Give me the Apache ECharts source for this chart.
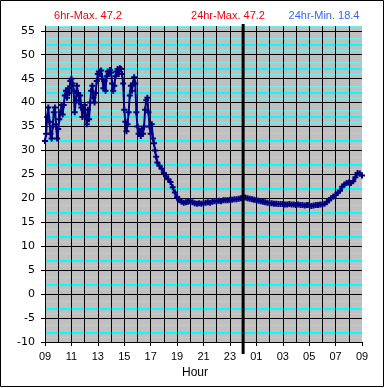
<!DOCTYPE html>
<html><head><meta charset="utf-8">
<script src="https://cdn.jsdelivr.net/npm/echarts@6/dist/echarts.min.js"></script>
<style>html,body{margin:0;padding:0;background:#fff}#c{width:385px;height:388px}</style>
</head><body><div id="c"></div>
<script>
// ---- data ----
const hourLabels = ['09','11','13','15','17','19','21','23','01','03','05','07','09'];
const yTickValues = [-10,-5,0,5,10,15,20,25,30,35,40,45,50,55];
const headerTexts = ['6hr-Max. 47.2', '24hr-Max. 47.2', '24hr-Min. 18.4'];
const axisTitle = 'Hour';
const midnightHour = 15; // hours after 09:00
// temperatures every 5 min from 09:00 to 17:30
const daySampleStartMin = 0, daySampleStepMin = 5;
const tempsDay = [
 32.0,33.5,37.0,39.0,36.0,33.5,32.5,35.0,38.0,39.0,35.5,32.5,
 34.5,36.5,38.0,39.5,37.5,39.5,41.5,42.5,41.0,43.0,42.0,44.5,
 45.0,44.0,42.5,38.0,40.5,43.5,42.0,40.0,41.5,39.0,37.0,38.5,
 39.5,37.0,35.5,38.5,36.5,40.0,42.5,43.5,41.0,40.0,42.0,44.5,
 46.0,46.5,46.0,46.7,45.0,43.0,44.5,42.5,45.5,46.5,46.0,46.8,
 46.3,44.0,42.5,43.5,45.5,46.5,47.0,46.0,47.2,47.0,46.0,44.0,
 38.5,36.0,34.0,35.5,38.0,41.5,43.5,42.5,44.0,45.3,44.0,38.0,
 35.0,33.5,34.0,33.0,34.5,33.5,35.0,38.5,40.5,41.0,38.0,35.0,
 33.5,35.5,32.5,31.5,30.0,28.7,27.5
];
// temperatures every 10 min from 17:40 to 09:00 next day
const nightSampleStartMin = 520, nightSampleStepMin = 10;
const tempsNight = [
 26.8,26.2,
 25.3,24.6,24.0,23.4,22.3,21.2,
 20.3,19.6,19.3,19.1,19.2,19.3,
 19.4,19.2,19.0,18.9,19.0,18.9,
 19.0,19.1,19.2,19.1,19.3,19.4,
 19.4,19.5,19.4,19.6,19.6,19.6,
 19.7,19.7,19.8,19.8,19.9,20.0,
 20.3,20.2,20.0,19.9,19.8,19.7,
 19.6,19.5,19.4,19.3,19.2,19.1,
 19.0,19.0,18.9,18.9,18.8,18.8,
 18.8,18.7,18.7,18.8,18.7,18.7,
 18.6,18.7,18.6,18.6,18.5,18.6,
 18.6,18.4,18.5,18.6,18.6,18.7,
 18.7,18.9,19.2,19.6,20.0,20.4,
 20.7,21.2,21.6,22.4,22.9,23.2,
 23.3,23.2,23.6,24.4,25.3,25.2,
 24.8
];
const yMin = -10, yMax = 56, yMajor = 5, yMinor = 0.5;

// ---- build ----
const seriesData = [];
tempsDay.forEach((v, i) => seriesData.push([(daySampleStartMin + i * daySampleStepMin) / 60, v]));
tempsNight.forEach((v, i) => seriesData.push([(nightSampleStartMin + i * nightSampleStepMin) / 60, v]));

const BLACK = '#000000', NONE = 'rgba(0,0,0,0)';
// cyan guide lines: within each 5-unit band, pale at +1, bright at +2, pale at +3.5
const paleColors = [], brightColors = [];
for (let k = 0; yMin + k * yMinor <= yMax + 1e-9; k++) {
  const m = k % 10;
  paleColors.push((m === 2 || m === 7) ? '#6ff0f0' : NONE);
  brightColors.push(m === 4 ? '#00ffff' : NONE);
}
const majorColors = [];
for (let v = yMin; v <= yMax; v += yMajor) majorColors.push(BLACK);
majorColors.push(NONE);
const xColors = [];
for (let i = 0; i < hourLabels.length; i++) xColors.push(i === hourLabels.length - 1 ? NONE : BLACK);

const plus = 'path://M2,0H4V6H2ZM0,2H6V4H0Z';
const hiddenAxis = (colors, w) => ({
  type: 'value', min: yMin, max: yMax, interval: yMinor, position: 'left',
  axisLine: {show: false}, axisTick: {show: false}, axisLabel: {show: false},
  splitLine: {show: true, lineStyle: {color: colors, width: w}}
});
const chart = echarts.init(document.getElementById('c'), null, {renderer: 'canvas'});
const option = {
  animation: false,
  backgroundColor: '#ffffff',
  grid: {left: 45, right: 23, top: 26, bottom: 46, show: true, backgroundColor: '#c0c0c0', borderWidth: 0},
  xAxis: {
    type: 'value', min: 0, max: 24, interval: 2,
    axisLine: {show: true, onZero: false, lineStyle: {color: BLACK, width: 1}},
    axisTick: {show: true, length: 4, lineStyle: {color: BLACK}},
    axisLabel: {margin: 9, color: '#000', fontFamily: '"Liberation Sans Narrow", "Liberation Sans", Arial', fontSize: 11,
      formatter: v => hourLabels[Math.round(v / 2)]},
    splitLine: {show: true, lineStyle: {color: xColors, width: 1}},
    minorTick: {show: false, splitNumber: 2},
    minorSplitLine: {show: true, lineStyle: {color: BLACK, width: 1}}
  },
  yAxis: [
    hiddenAxis(paleColors, 1),
    hiddenAxis(brightColors, 2),
    {
      type: 'value', min: yMin, max: yMax, interval: yMajor, position: 'left',
      axisLine: {show: true, lineStyle: {color: BLACK}},
      axisTick: {show: true, length: 4, lineStyle: {color: BLACK}, customValues: yTickValues},
      axisLabel: {margin: 10, color: '#000', fontFamily: '"DejaVu Sans", Verdana', fontSize: 11, customValues: yTickValues},
      splitLine: {show: true, lineStyle: {color: majorColors, width: 1}}
    }
  ],
  series: [{
    type: 'line', xAxisIndex: 0, yAxisIndex: 2, data: seriesData,
    symbol: plus, symbolSize: 6, showSymbol: true,
    itemStyle: {color: '#000080'},
    lineStyle: {color: '#000080', width: 2},
    z: 5
  }]
};
chart.setOption(option);

const mx = chart.convertToPixel({xAxisIndex: 0}, midnightHour);
const rect = chart.getModel().getComponent('grid', 0).coordinateSystem.getRect();
chart.setOption({
  graphic: [
    {type: 'line', id: 'mid', z: 10, shape: {x1: mx, y1: rect.y - 2, x2: mx, y2: rect.y + rect.height + 12},
      style: {stroke: BLACK, lineWidth: 3}},
    {type: 'text', id: 'h1', x: 88, y: 15.5, style: {text: headerTexts[0], fill: '#ff0000', font: '11px "Liberation Sans", Arial', textAlign: 'center', textVerticalAlign: 'middle'}},
    {type: 'text', id: 'h2', x: 228, y: 15.5, style: {text: headerTexts[1], fill: '#ff0000', font: '11px "Liberation Sans", Arial', textAlign: 'center', textVerticalAlign: 'middle'}},
    {type: 'text', id: 'h3', x: 324, y: 15.5, style: {text: headerTexts[2], fill: '#3366ff', font: '11px "Liberation Sans", Arial', textAlign: 'center', textVerticalAlign: 'middle'}},
    {type: 'text', id: 'xt', x: 195, y: 373, style: {text: axisTitle, fill: '#000', font: '12px "Liberation Sans", Arial', textAlign: 'center', textVerticalAlign: 'middle'}},
    {type: 'rect', id: 'border', z: 20, shape: {x: 0.5, y: 0.5, width: 383, height: 386}, style: {fill: 'none', stroke: BLACK, lineWidth: 1}}
  ]
});
</script></body></html>
